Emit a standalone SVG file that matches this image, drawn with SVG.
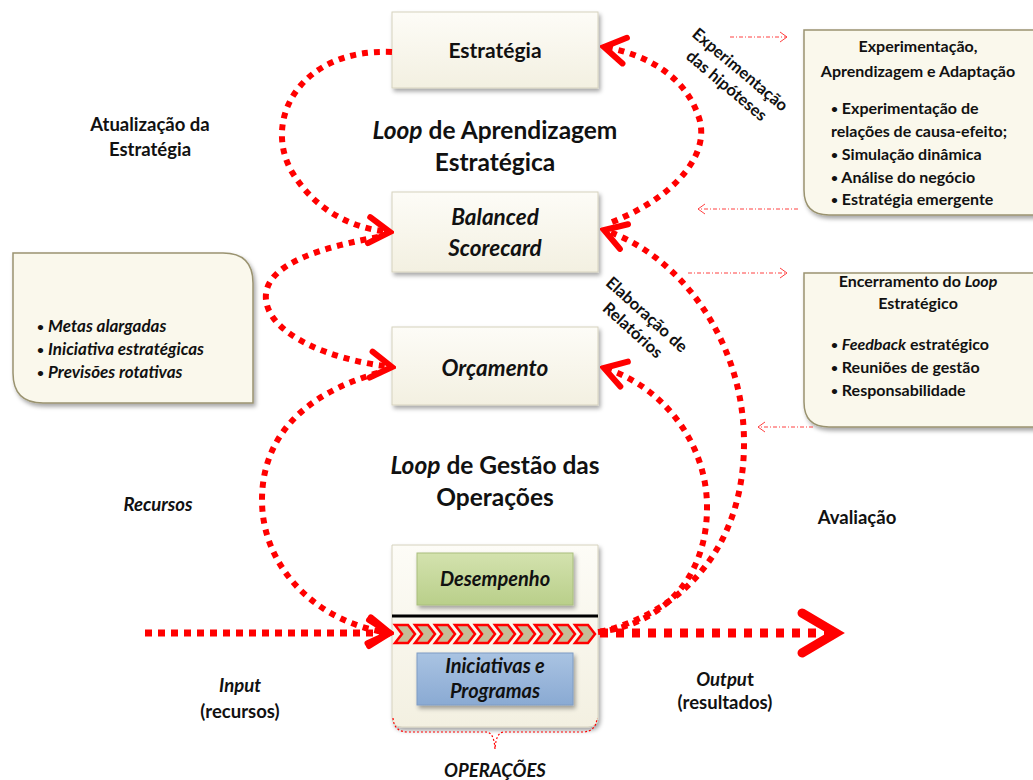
<svg xmlns="http://www.w3.org/2000/svg" xmlns:xlink="http://www.w3.org/1999/xlink" width="1033" height="780" viewBox="0 0 1033 780">
<style>
text{font-family:Lato,"Liberation Sans",sans-serif;fill:#111;font-weight:bold}
.mid{text-anchor:middle}
.it{font-style:italic}
.b{font-size:12px;font-style:normal;baseline-shift:1.5px}
.f21{font-size:21px}
.fi{font-size:22.5px;font-style:italic}
.fo{font-size:20px;font-style:italic}
.f24{font-size:24.5px}
.f18{font-size:18.5px}
.f16{font-size:16px}
.f17{font-size:17px}
.box{fill:url(#gBox);stroke:#D6D2BE;stroke-width:1;filter:url(#sh)}
.note{fill:#FAF8EC;stroke:#9A9370;stroke-width:1.5;filter:url(#sh)}
.dot{fill:none;stroke:#FF0000;stroke-width:6;stroke-dasharray:6 6;marker-end:url(#ah)}
.thin{fill:none;stroke:#FF4040;stroke-width:1;stroke-dasharray:4 2 1 2}
.thinh{fill:none;stroke:#FF4040;stroke-width:1}
.chev{fill:#C4BD97;stroke:#FF0000;stroke-width:2.5;stroke-linejoin:miter}
</style>
<defs>
<linearGradient id="gBox" x1="0" y1="0" x2="0" y2="1">
<stop offset="0" stop-color="#FDFCF7"/><stop offset="1" stop-color="#F3F0E1"/>
</linearGradient>
<linearGradient id="gGreen" x1="0" y1="0" x2="0" y2="1">
<stop offset="0" stop-color="#D3E2AE"/><stop offset="1" stop-color="#B9CF8A"/>
</linearGradient>
<linearGradient id="gBlue" x1="0" y1="0" x2="0" y2="1">
<stop offset="0" stop-color="#A9C3E2"/><stop offset="1" stop-color="#8AAAD3"/>
</linearGradient>
<filter id="sh" x="-10%" y="-10%" width="125%" height="130%">
<feDropShadow dx="2" dy="3" stdDeviation="2" flood-color="#000" flood-opacity="0.35"/>
</filter>
<marker id="ah" viewBox="-26 -18 30 36" refX="0" refY="0" markerWidth="30" markerHeight="36" markerUnits="userSpaceOnUse" orient="auto">
<path d="M-21,-13 L0,0 L-21,13" fill="none" stroke="#FF0000" stroke-width="6" stroke-linecap="round"/>
</marker>
<polygon id="chv" class="chev" points="0,-9 13,-9 20,0 13,9 0,9 7,0"/>
</defs>

<!-- Side notes -->
<g id="note-experimentacao">
<path class="note" d="M804,30 H1050 V215 H829 Q804,215 804,190 Z"/>
<text class="f16 mid" x="918" y="52">Experimentação,</text>
<text class="f16 mid" x="918" y="77">Aprendizagem e Adaptação</text>
<text class="f16" x="831" y="114"><tspan class="b">•</tspan> Experimentação de</text>
<text class="f16" x="831" y="137">relações de causa-efeito;</text>
<text class="f16" x="831" y="160"><tspan class="b">•</tspan> Simulação dinâmica</text>
<text class="f16" x="831" y="183"><tspan class="b">•</tspan> Análise do negócio</text>
<text class="f16" x="831" y="205"><tspan class="b">•</tspan> Estratégia emergente</text>
</g>
<g id="note-encerramento">
<path class="note" d="M804,273 H1050 V427 H829 Q804,427 804,402 Z"/>
<text class="f16 mid" x="918" y="287">Encerramento do <tspan class="it">Loop</tspan></text>
<text class="f16 mid" x="918" y="309">Estratégico</text>
<text class="f16" x="831" y="350"><tspan class="b">•</tspan> <tspan class="it">Feedback</tspan> estratégico</text>
<text class="f16" x="831" y="373"><tspan class="b">•</tspan> Reuniões de gestão</text>
<text class="f16" x="831" y="396"><tspan class="b">•</tspan> Responsabilidade</text>
</g>
<g id="note-metas">
<path class="note" d="M13,253 H223 Q253,253 253,283 V403 H43 Q13,403 13,373 Z"/>
<text class="f17" x="37" y="332"><tspan class="b">•</tspan> <tspan class="it">Metas alargadas</tspan></text>
<text class="f17" x="37" y="355"><tspan class="b">•</tspan> <tspan class="it">Iniciativa estratégicas</tspan></text>
<text class="f17" x="37" y="378"><tspan class="b">•</tspan> <tspan class="it">Previsões rotativas</tspan></text>
</g>

<!-- Main nodes -->
<g id="estrategia">
<rect class="box" x="392" y="12" width="206" height="76"/>
<text class="f21 mid" x="495" y="58">Estratégia</text>
</g>
<g id="bsc">
<rect class="box" x="392" y="192" width="206" height="80"/>
<text class="fi mid" x="495" y="225">Balanced</text>
<text class="fi mid" x="495" y="256">Scorecard</text>
</g>
<g id="orcamento">
<rect class="box" x="392" y="327" width="206" height="78"/>
<text class="fi mid" x="495" y="376">Orçamento</text>
</g>
<g id="operacoes">
<path class="box" d="M392,545 H598 V717 Q598,727 588,727 H402 Q392,727 392,717 Z"/>
<rect x="417" y="553" width="156" height="52" fill="url(#gGreen)" stroke="#A9BE7C" stroke-width="1" filter="url(#sh)"/>
<text class="fo mid" x="495" y="586">Desempenho</text>
<line x1="392" y1="616" x2="598" y2="616" stroke="#000" stroke-width="3"/>
<rect x="417" y="653" width="156" height="52" fill="url(#gBlue)" stroke="#7F9CC4" stroke-width="1" filter="url(#sh)"/>
<text class="fo mid" x="495" y="673">Iniciativas e</text>
<text class="fo mid" x="495" y="698">Programas</text>
<path d="M393,718 Q394,732 408,732 H486 Q494,732 495,749 Q496,732 504,732 H582 Q596,732 597,718" fill="none" stroke="#FF0000" stroke-width="1.2" stroke-dasharray="2 2"/>
<text class="f18 mid it" x="495" y="777">OPERAÇÕES</text>
</g>

<!-- Connectors -->
<g id="connectors">
<path class="dot" d="M392,52 C300,48 262,120 292,172 C312,205 345,228 390,232"/>
<path class="dot" d="M612,222 C680,195 712,150 698,115 C685,78 650,55 604,47"/>
<path class="dot" d="M378,237 C330,246 262,262 266,300 C270,335 330,360 392,367"/>
<path class="dot" d="M378,373 C300,395 262,440 262,500 C262,570 320,624 390,633"/>
<path class="dot" d="M598,632 C660,625 708,580 707,505 C706,440 660,385 604,368"/>
<path class="dot" d="M600,632 C690,610 745,540 744,440 C743,340 680,255 604,230"/>
<path class="dot" d="M145,633 L390,633" style="stroke-width:7;stroke-dasharray:7 6"/>
<path d="M600,633 L828,633" fill="none" stroke="#FF0000" stroke-width="9" stroke-dasharray="8 8"/>
<polyline points="802,613 836,633 802,653" fill="none" stroke="#FF0000" stroke-width="9" stroke-linecap="round"/>
<use xlink:href="#chv" x="395" y="634"/>
<use xlink:href="#chv" x="415" y="634"/>
<use xlink:href="#chv" x="435" y="634"/>
<use xlink:href="#chv" x="455" y="634"/>
<use xlink:href="#chv" x="475" y="634"/>
<use xlink:href="#chv" x="495" y="634"/>
<use xlink:href="#chv" x="515" y="634"/>
<use xlink:href="#chv" x="535" y="634"/>
<use xlink:href="#chv" x="555" y="634"/>
<use xlink:href="#chv" x="575" y="634"/>
<line class="thin" x1="730" y1="37" x2="787" y2="37"/>
<polyline class="thinh" points="780,32 787,37 780,42"/>
<line class="thin" x1="798" y1="209" x2="698" y2="209"/>
<polyline class="thinh" points="705,204 698,209 705,214"/>
<line class="thin" x1="688" y1="273" x2="787" y2="273"/>
<polyline class="thinh" points="780,268 787,273 780,278"/>
<line class="thin" x1="813" y1="427" x2="758" y2="427"/>
<polyline class="thinh" points="765,422 758,427 765,432"/>
</g>

<!-- Labels -->
<g id="labels">
<text class="f24 mid" x="495" y="139"><tspan class="it">Loop</tspan> de Aprendizagem</text>
<text class="f24 mid" x="495" y="171">Estratégica</text>
<text class="f24 mid" x="495" y="474"><tspan class="it">Loop</tspan> de Gestão das</text>
<text class="f24 mid" x="495" y="506">Operações</text>
<text class="f18 mid" x="150" y="131">Atualização da</text>
<text class="f18 mid" x="150" y="156">Estratégia</text>
<text class="f18 mid it" x="158" y="511">Recursos</text>
<text class="f18 mid" x="857" y="524">Avaliação</text>
<text class="f18 mid it" x="240" y="692">Input</text>
<text class="f18 mid" x="240" y="718">(recursos)</text>
<text class="f18 mid" x="725" y="686"><tspan class="it">Outpu</tspan>t</text>
<text class="f18 mid" x="725" y="709">(resultados)</text>
<g transform="translate(734,77) rotate(40)">
<text class="f16 mid" y="-4" style="font-size:16.5px">Experimentação</text>
<text class="f16 mid" y="17" style="font-size:16.5px">das hipóteses</text>
</g>
<g transform="translate(641,321) rotate(42)">
<text class="f16 mid" y="-3" style="font-size:16.5px">Elaboração de</text>
<text class="f16 mid" y="18" style="font-size:16.5px">Relatórios</text>
</g>
</g>
</svg>
